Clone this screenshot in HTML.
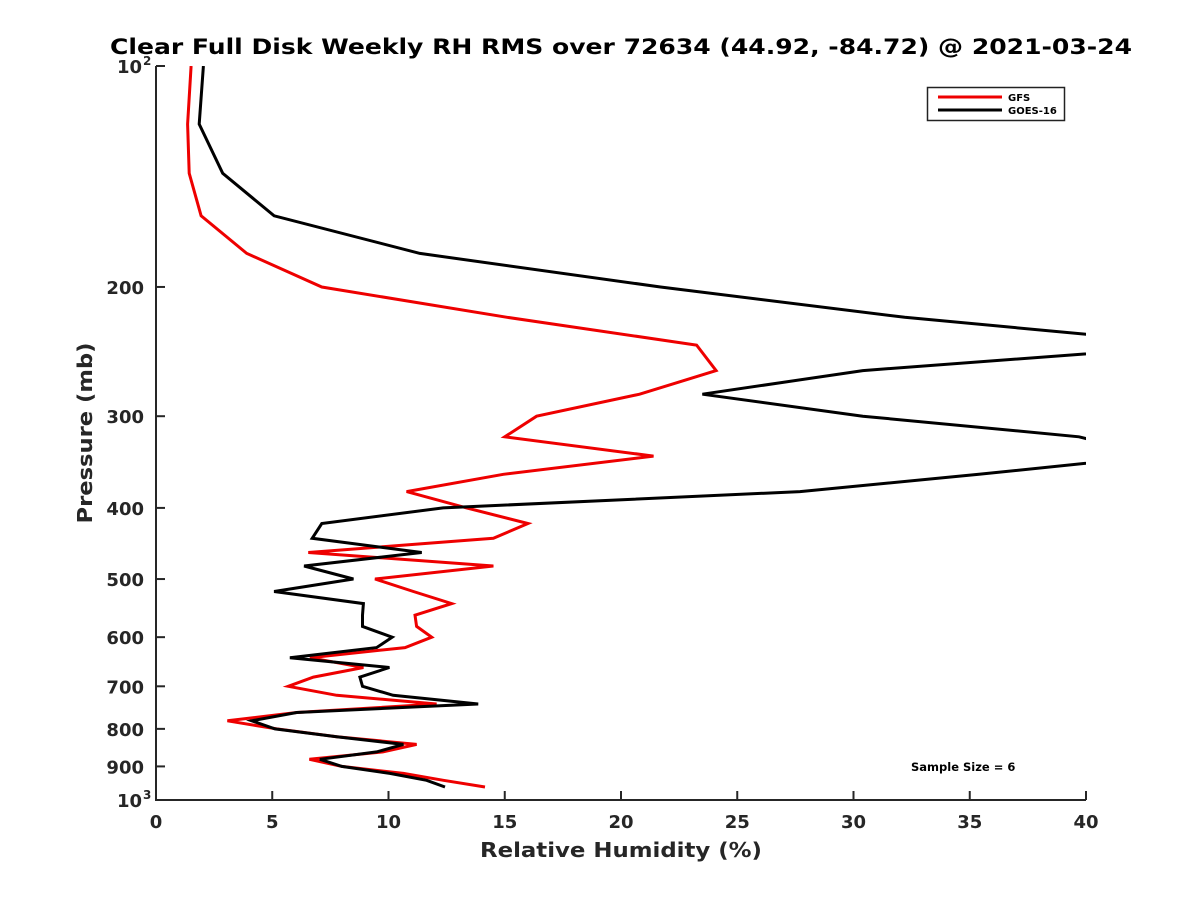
<!DOCTYPE html>
<html><head><meta charset="utf-8"><style>
body{margin:0;background:#fff;}
svg{display:block;font-family:"DejaVu Sans","Liberation Sans",sans-serif;}
</style></head><body>
<svg id="chart" width="1200" height="900" viewBox="0 0 1200 900">
<rect width="1200" height="900" fill="#fff"/>
<text x="621" y="54" font-size="21" font-weight="bold" text-anchor="middle" textLength="1022" lengthAdjust="spacingAndGlyphs">Clear Full Disk Weekly RH RMS over 72634 (44.92, -84.72) @ 2021-03-24</text>
<defs><clipPath id="clip"><rect x="156" y="66" width="930" height="734"/></clipPath></defs>
<g id="series" clip-path="url(#clip)"></g>
<g id="axes"></g>
<text x="621" y="857" font-size="20" font-weight="bold" text-anchor="middle" textLength="282" lengthAdjust="spacingAndGlyphs" fill="#262626">Relative Humidity (%)</text>
<text transform="translate(92,433) rotate(-90)" font-size="20" font-weight="bold" text-anchor="middle" textLength="181" lengthAdjust="spacingAndGlyphs" fill="#262626">Pressure (mb)</text>
<g>
<rect x="927.5" y="87.5" width="137" height="33" fill="#fff" stroke="#222" stroke-width="1.5"/>
<line x1="938" y1="97" x2="1002" y2="97" stroke="#e00" stroke-width="3"/>
<text x="1008" y="101" font-size="10" font-weight="bold">GFS</text>
<line x1="938" y1="110" x2="1002" y2="110" stroke="#000" stroke-width="3"/>
<text x="1008" y="114" font-size="10" font-weight="bold">GOES-16</text>
</g>
<text x="911" y="771" font-size="11.5" font-weight="bold">Sample Size = 6</text>
</svg>
<script>
const pressureLevels = [100,120,140,160,180,200,220,240,260,280,300,320,340,360,380,400,420,440,460,480,500,520,540,560,580,600,620,640,660,680,700,720,740,760,780,800,820,840,860,880,900,920,940,960];
const gfsRH = [1.51,1.36,1.43,1.94,3.90,7.13,15.1,23.25,24.09,20.8,16.37,15.0,21.4,14.94,10.78,13.36,16.0,14.51,6.55,14.51,9.42,11.07,12.72,11.14,11.21,11.86,10.71,6.62,8.92,6.77,5.69,7.77,12.07,6.05,3.07,5.19,7.77,11.21,9.76,6.6,7.99,10.64,12.36,14.15];
const goesRH = [2.04,1.86,2.87,5.08,11.35,21.7,32.2,45.0,30.4,23.5,30.4,39.7,43.0,35.4,27.7,12.35,7.13,6.72,11.43,6.37,8.49,5.08,8.92,8.88,8.88,10.16,9.49,5.76,10.04,8.77,8.88,10.2,13.86,6.05,4.12,5.12,7.77,10.64,9.49,7.05,7.99,10.06,11.64,12.43];
const xTicks = [0,5,10,15,20,25,30,35,40];
const yTicks = [200,300,400,500,600,700,800,900];

const NS='http://www.w3.org/2000/svg';
const X0=156,X1=1086,Y0=66,Y1=800;
function xs(v){return X0+(v-0)/40*(X1-X0);}
function ys(p){return Y0+Math.log10(p/100)*(Y1-Y0);}
function mk(tag,attrs,parent){const e=document.createElementNS(NS,tag);for(const k in attrs)e.setAttribute(k,attrs[k]);parent.appendChild(e);return e;}
const series=document.getElementById('series'), axes=document.getElementById('axes');

function drawLine(vals,color,name){
  const pts=vals.map((v,i)=>xs(v).toFixed(1)+','+ys(pressureLevels[i]).toFixed(1)).join(' ');
  const pl=mk('polyline',{points:pts,fill:'none',stroke:color,'stroke-width':3,'stroke-linejoin':'miter'},series);
  
  
}
drawLine(gfsRH,'#e00','gfs-line');
drawLine(goesRH,'#000','goes16-line');

const ax=mk('path',{d:`M${X0},${Y0} V${Y1} H${X1}`,fill:'none',stroke:'#262626','stroke-width':2},axes);



xTicks.forEach(t=>{
  const x=xs(t);
  const l=mk('line',{x1:x,y1:Y1,x2:x,y2:Y1-9,stroke:'#262626','stroke-width':2},axes);
  
  
  const tx=mk('text',{x:x,y:Y1+28,'font-size':18,'font-weight':'bold','text-anchor':'middle',fill:'#262626'},axes);
  tx.textContent=t;
  
  
});
[100,1000].concat(yTicks).forEach(p=>{
  const y=ys(p);
  const l=mk('line',{x1:X0,y1:y,x2:X0+9,y2:y,stroke:'#262626','stroke-width':2},axes);
  
  
});
yTicks.forEach(p=>{
  const tx=mk('text',{x:X0-12,y:ys(p)+7,'font-size':18,'font-weight':'bold','text-anchor':'end',fill:'#262626'},axes);
  tx.textContent=p;
  
  
});
[[100,'2'],[1000,'3']].forEach(([p,e])=>{
  const tx=mk('text',{x:X0-14,y:ys(p)+7,'font-size':18,'font-weight':'bold','text-anchor':'end',fill:'#262626'},axes);
  tx.textContent='10';
  
  
  const sp=mk('text',{x:X0-13,y:ys(p)-1,'font-size':12,'font-weight':'bold','text-anchor':'start',fill:'#262626'},axes);
  sp.textContent=e;
  
  
});
</script>
</body></html>
